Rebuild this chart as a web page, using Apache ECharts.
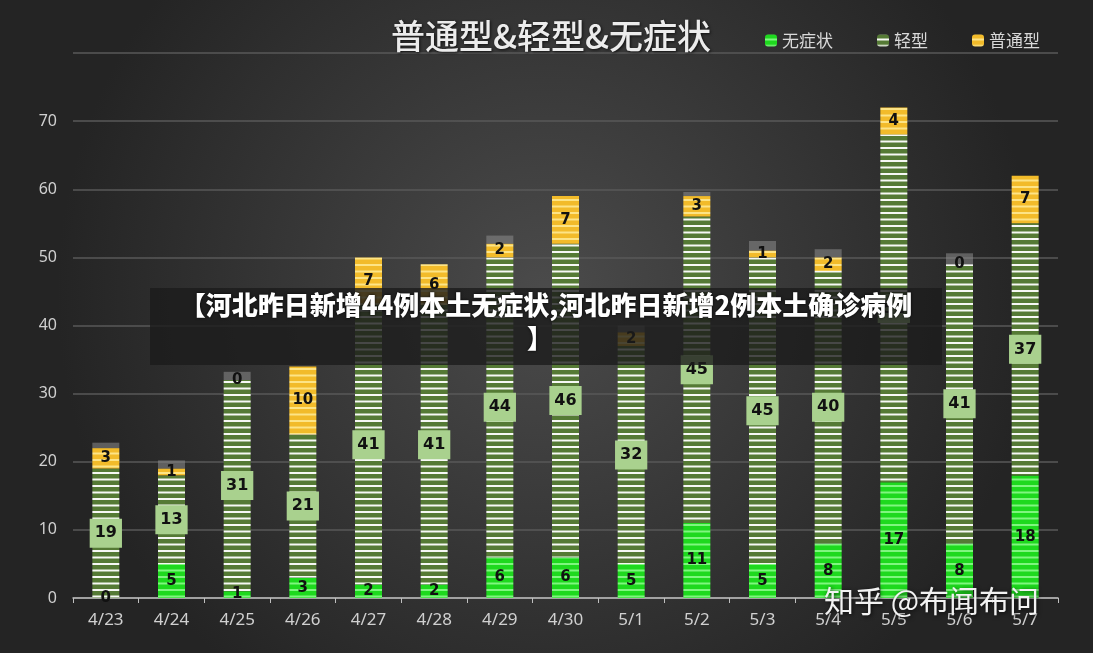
<!DOCTYPE html>
<html>
<head>
<meta charset="utf-8">
<script src="https://cdn.jsdelivr.net/npm/echarts@6/dist/echarts.min.js"></script>
<style>
  html, body { margin: 0; padding: 0; background: #2b2b2b; }
  #chart { width: 1093px; height: 653px; }
</style>
</head>
<body>
<div id="chart"></div>
<script>
// 数据
const days = ['4/23', '4/24', '4/25', '4/26', '4/27', '4/28', '4/29', '4/30', '5/1', '5/2', '5/3', '5/4', '5/5', '5/6', '5/7']
const wuzhengzhuang = [0, 5, 1, 3, 2, 2, 6, 6, 5, 11, 5, 8, 17, 8, 18]
const qingxing = [19, 13, 31, 21, 41, 41, 44, 46, 32, 45, 45, 40, 51, 41, 37]
const putongxing = [3, 1, 0, 10, 7, 6, 2, 7, 2, 3, 1, 2, 4, 0, 7]
// 顶部灰色小块
const caps = [0.8, 1.2, 1.2, 0, 0, 0, 1.2, 0, 1, 0.6, 1.4, 1.2, 0, 1.6, 0]
const yTicks = [0, 10, 20, 30, 40, 50, 60, 70, 80]

// 条纹填充
const stripe = (base, line) => {
  const c = document.createElement('canvas')
  c.width = 4
  c.height = 13
  const ctx = c.getContext('2d')
  ctx.fillStyle = base
  ctx.fillRect(0, 0, 4, 13)
  ctx.fillStyle = line
  ctx.fillRect(0, 4, 4, 2)
  ctx.fillRect(0, 10.5, 4, 2)
  return { image: c, repeat: 'repeat' }
}

const numFont = '"DejaVu Sans", Verdana, sans-serif'
const cjkFont = '"Noto Sans CJK SC", "Noto Sans", sans-serif'

const chart = echarts.init(document.getElementById('chart'))

const option = {
  backgroundColor: {
    type: 'radial', x: 0.5, y: 0.45, r: 0.75,
    colorStops: [
      { offset: 0, color: '#4b4b4b' },
      { offset: 1, color: '#242424' }
    ]
  },
  title: {
    text: '普通型&轻型&无症状',
    left: 546, top: 14, textAlign: 'center',
    textStyle: {
      color: '#ececec', fontSize: 34, fontWeight: 500, fontFamily: cjkFont,
      textShadowColor: 'rgba(0,0,0,0.7)', textShadowBlur: 3, textShadowOffsetX: 1, textShadowOffsetY: 1
    }
  },
  legend: {
    data: ['无症状', '轻型', '普通型'],
    left: 760, top: 27,
    itemWidth: 12, itemHeight: 12, itemGap: 44,
    textStyle: { color: '#d9d9d9', fontSize: 17, fontFamily: cjkFont }
  },
  grid: { left: 73, right: 35, top: 53, bottom: 55 },
  xAxis: {
    type: 'category',
    data: days,
    axisLine: { lineStyle: { color: '#bfbfbf', width: 1.5 } },
    axisTick: { show: true, length: 5, lineStyle: { color: '#bfbfbf' } },
    axisLabel: { color: '#d0d0d0', fontSize: 17, margin: 14, fontFamily: '"Noto Sans", sans-serif' }
  },
  yAxis: {
    type: 'value',
    min: 0, max: 80, interval: 10,
    axisLabel: {
      color: '#d0d0d0', fontSize: 16, margin: 16, fontFamily: '"Noto Sans", sans-serif',
      formatter: v => (yTicks.includes(v) && v < 80 ? String(v) : '')
    },
    splitLine: { lineStyle: { color: '#595959', width: 1.5 } },
    axisLine: { show: false },
    axisTick: { show: false }
  },
  series: [
    {
      name: '无症状',
      type: 'bar',
      stack: 'total',
      barWidth: 27,
      data: wuzhengzhuang,
      itemStyle: { color: stripe('#1ed91e', 'rgba(160,255,160,0.75)') },
      label: {
        show: true, position: 'inside',
        color: '#111', fontSize: 15, fontWeight: 'bold', fontFamily: numFont
      }
    },
    {
      name: '轻型',
      type: 'bar',
      stack: 'total',
      data: qingxing,
      itemStyle: { color: stripe('#557a35', 'rgba(255,255,255,0.95)') },
      label: {
        show: true, position: 'inside',
        color: '#111', fontSize: 16, fontWeight: 'bold', fontFamily: numFont,
        backgroundColor: '#a9d18e', padding: [7, 5, 6, 5], borderRadius: 0
      }
    },
    {
      name: '普通型',
      type: 'bar',
      stack: 'total',
      data: putongxing,
      itemStyle: { color: stripe('#f2bb2a', 'rgba(255,235,150,0.85)') },
      label: {
        show: true, position: 'inside',
        color: '#111', fontSize: 15, fontWeight: 'bold', fontFamily: numFont
      }
    },
    {
      name: 'cap',
      type: 'bar',
      stack: 'total',
      data: caps,
      itemStyle: { color: 'rgba(140,140,140,0.55)' },
      silent: true
    }
  ],
  graphic: [
    {
      type: 'rect', z: 100,
      shape: { x: 150, y: 288, width: 792, height: 77 },
      style: { fill: 'rgba(28,28,28,0.8)' }
    },
    {
      type: 'text', z: 101, x: 546, y: 292,
      style: {
        text: '【河北昨日新增44例本土无症状,河北昨日新增2例本土确诊病例',
        fill: '#ffffff', font: '900 26px ' + cjkFont, align: 'center',
        textShadowColor: 'rgba(0,0,0,0.9)', textShadowBlur: 3
      }
    },
    {
      type: 'text', z: 101, x: 540, y: 325,
      style: {
        text: '】',
        fill: '#ffffff', font: '900 26px ' + cjkFont, align: 'center',
        textShadowColor: 'rgba(0,0,0,0.9)', textShadowBlur: 3
      }
    },
    {
      type: 'text', z: 101, left: 824, top: 586,
      style: {
        text: '知乎 @布闻布问',
        fill: '#f2f2f2', font: '30px ' + cjkFont,
        textShadowColor: 'rgba(0,0,0,0.8)', textShadowBlur: 4, textShadowOffsetX: 1, textShadowOffsetY: 1
      }
    }
  ]
}

chart.setOption(option)
</script>
</body>
</html>
